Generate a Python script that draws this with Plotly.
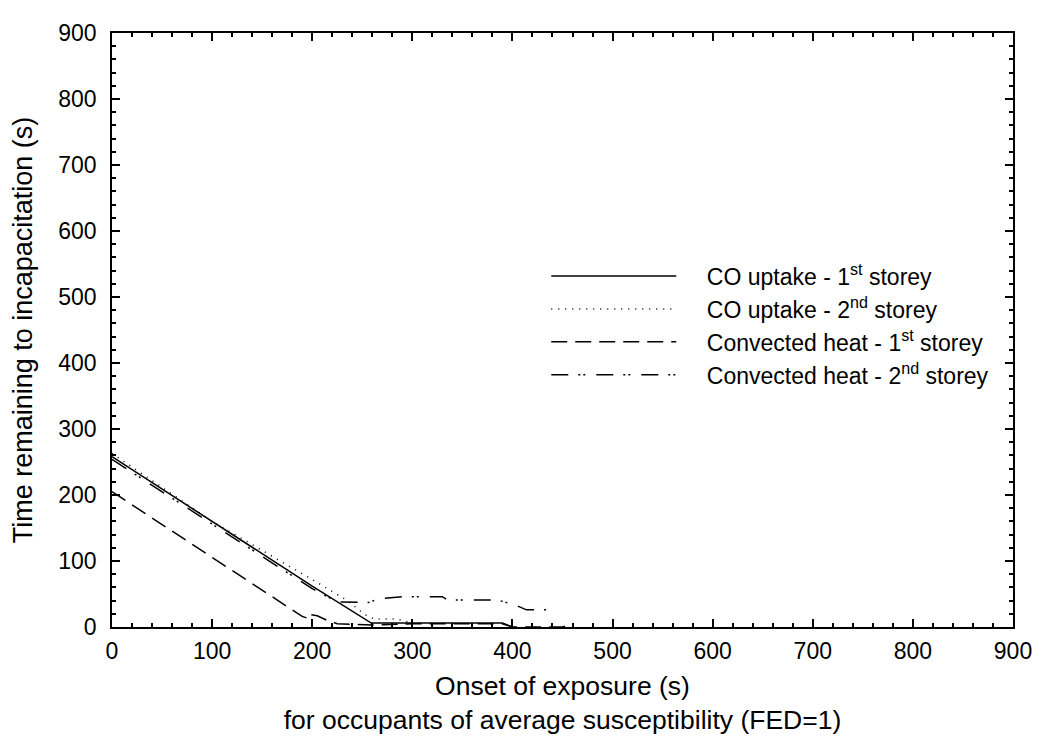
import plotly.graph_objects as go

# ---- data ----
co1_x = [0, 100, 200, 259, 300, 390, 400]
co1_y = [258, 160, 62, 6, 6, 6, 0]

co2_x = [0, 100, 200, 233, 246, 252, 262, 285, 300]
co2_y = [263, 160, 72, 42, 27, 19, 12, 12, 6]

ch1_x = [0, 100, 180, 190, 196, 197, 205, 215, 225, 260, 300, 390, 400, 450, 460]
ch1_y = [205, 106, 26, 16, 13, 19, 17, 10, 5, 3, 5, 5, 0, 0, 5]

ch2_x = [0, 100, 200, 225, 240, 256, 267, 290, 330, 335, 385, 395, 405, 414, 435]
ch2_y = [254, 156, 58, 38, 37, 37, 43, 46, 46, 41, 41, 37, 32, 26, 26]

names = [
    "CO uptake - 1<sup>st</sup> storey",
    "CO uptake - 2<sup>nd</sup> storey",
    "Convected heat - 1<sup>st</sup> storey",
    "Convected heat - 2<sup>nd</sup> storey",
]
dashes = ["solid", "1px,6px", "16px,8px", "17px,10px,2px,3px,2px,11px"]

x_title = "Onset of exposure (s)<br>for occupants of average susceptibility (FED=1)"
y_title = "Time remaining to incapacitation (s)"

FONT = "Liberation Sans, Arial, sans-serif"
PAD = "&nbsp;" * 4

fig = go.Figure()
for xs, ys, nm, ds in zip([co1_x, co2_x, ch1_x, ch2_x], [co1_y, co2_y, ch1_y, ch2_y], names, dashes):
    fig.add_trace(go.Scatter(x=xs, y=ys, mode="lines", name=PAD + nm,
                             line=dict(color="black", width=1.5, dash=ds)))

axis_common = dict(
    range=[0, 900], dtick=100, tick0=0,
    ticks="inside", ticklen=8, tickwidth=1.5, tickcolor="black",
    showline=True, linecolor="black", linewidth=1.5, mirror="ticks",
    showgrid=False, zeroline=False,
    tickfont=dict(family=FONT, size=23, color="black"),
    minor=dict(dtick=20, ticks="inside", ticklen=4, tickwidth=1.5, tickcolor="black", showgrid=False),
)

fig.update_layout(
    width=1036, height=734,
    margin=dict(l=104, r=24, t=13, b=114),
    paper_bgcolor="white", plot_bgcolor="white",
    font=dict(family=FONT, size=23, color="black"),
    xaxis=dict(**axis_common, title=dict(text=x_title, font=dict(size=26.5), standoff=13),
               ticklabelstandoff=3),
    yaxis=dict(**axis_common, title=dict(text=y_title, font=dict(size=27), standoff=18),
               ticklabelstandoff=9),
    showlegend=True,
    legend=dict(x=0.482, y=0.627, xanchor="left", yanchor="top",
                bgcolor="rgba(0,0,0,0)", borderwidth=0,
                font=dict(family=FONT, size=23, color="black"),
                itemwidth=125, tracegroupgap=0),
)

fig.write_html("out.html")
